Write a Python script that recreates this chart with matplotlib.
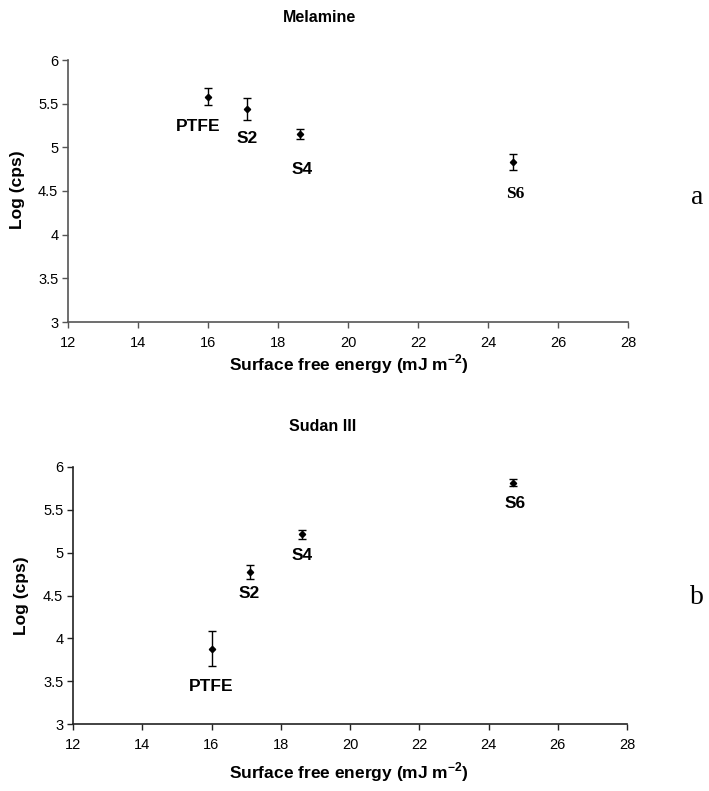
import numpy as np
import matplotlib
matplotlib.use("Agg")
import matplotlib.pyplot as plt

plt.rcParams['font.family'] = ['Liberation Sans', 'DejaVu Sans']
plt.rcParams['mathtext.fontset'] = 'custom'
plt.rcParams['mathtext.bf'] = 'Liberation Sans:bold'
plt.rcParams['mathtext.rm'] = 'Liberation Sans'

# surface free energy (mJ m-2) of the substrates
labels = ["PTFE", "S2", "S4", "S6"]
energy = [16.0, 17.1, 18.62, 24.72]

# panel a: melamine
mel_log = [5.58, 5.44, 5.155, 4.835]
mel_err = [0.10, 0.13, 0.06, 0.09]

# panel b: Sudan III
sud_log = [3.88, 4.775, 5.215, 5.815]
sud_err = [0.20, 0.085, 0.05, 0.04]

W, H = 709, 791
XLAB = "Surface free energy (mJ m$^{\\mathbf{-2}}$)"


def px(x, y):
    return x / W, 1 - y / H


def draw_panel(ax, x, y, err, offsets, spine_col, tick_font, s6_serif=False):
    ax.errorbar(x, y, yerr=err, fmt='D', color='black', markersize=3.2,
                elinewidth=1, ecolor='black', capsize=3, capthick=1)
    ax.set_xlim(12, 28)
    ax.set_ylim(3, 6)
    ax.set_xticks(np.arange(12, 29, 2))
    ax.set_yticks(np.arange(3, 6.01, 0.5))
    ax.set_yticklabels(["3", "3.5", "4", "4.5", "5", "5.5", "6"])
    for s in ["top", "right"]:
        ax.spines[s].set_visible(False)
    for s in ["left", "bottom"]:
        ax.spines[s].set_color(spine_col)
        ax.spines[s].set_linewidth(1.2)
    ax.tick_params(direction='out', length=4, width=1, color=spine_col,
                   labelsize=10.5, pad=3)
    for t in ax.get_xticklabels() + ax.get_yticklabels():
        t.set_family(tick_font)
    ax.tick_params(axis='x', pad=6)
    for i, lab in enumerate(labels):
        dx, dy = offsets[i]
        fam = ['Liberation Serif'] if (s6_serif and lab == "S6") else ['Liberation Sans']
        ax.annotate(lab, (x[i], y[i]), xytext=(dx * 0.72, -dy * 0.72),
                    textcoords='offset points', ha='center', va='center',
                    fontsize=12.5, fontweight='bold', family=fam)


fig = plt.figure(figsize=(W / 100, H / 100), dpi=100)

# top panel
ax1 = fig.add_axes([68 / W, 1 - 322 / H, 560 / W, 262 / H])
draw_panel(ax1, energy, mel_log, mel_err,
           [(-10, 30), (1, 30), (2, 36), (2, 32)], '#555555',
           ['Liberation Sans'], s6_serif=True)

# bottom panel
ax2 = fig.add_axes([73 / W, 1 - 724 / H, 554 / W, 257 / H])
draw_panel(ax2, energy, sud_log, sud_err,
           [(0, 38), (0, 22), (0, 21), (2, 21)], '#222222',
           ['Liberation Sans Narrow', 'Liberation Sans'])

# titles, axis labels
fig.text(*px(320, 18), "Melamine", ha='center', va='center',
         fontsize=11.5, fontweight='bold')
fig.text(*px(323, 427), "Sudan III", ha='center', va='center',
         fontsize=11.5, fontweight='bold')
fig.text(*px(349, 364), XLAB, ha='center', va='center',
         fontsize=12.5, fontweight='bold')
fig.text(*px(349, 772), XLAB, ha='center', va='center',
         fontsize=12.5, fontweight='bold',
         family=['Liberation Sans Narrow', 'Liberation Sans'])
fig.text(*px(18, 190), "Log (cps)", ha='center', va='center', rotation=90,
         fontsize=12.5, fontweight='bold')
fig.text(*px(22, 596), "Log (cps)", ha='center', va='center', rotation=90,
         fontsize=12.5, fontweight='bold')

# panel letters
fig.text(*px(697, 197), "a", ha='center', va='center', fontsize=20,
         family='Liberation Serif')
fig.text(*px(697, 598), "b", ha='center', va='center', fontsize=20,
         family='Liberation Serif')

fig.savefig("out.png", dpi=100)
